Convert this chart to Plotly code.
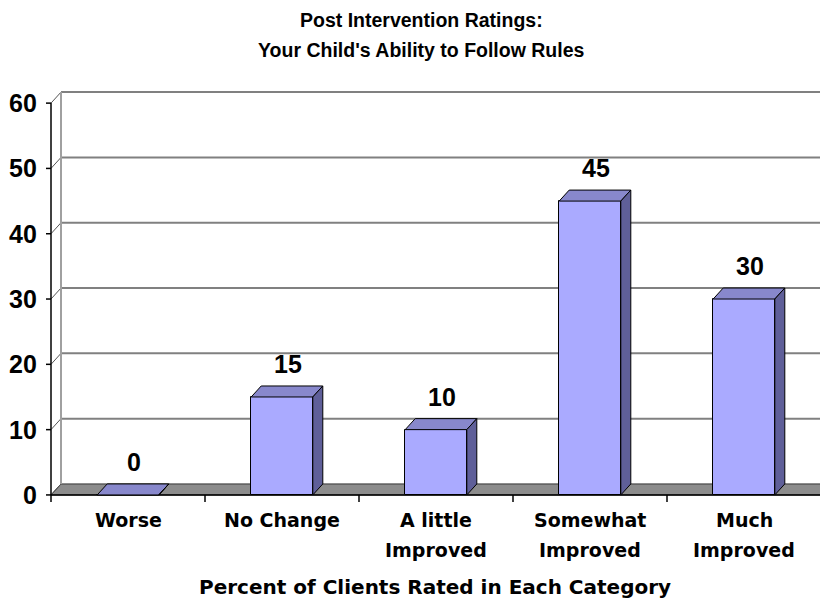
import plotly.graph_objects as go

# data
categories = ["Worse", "No Change", "A little<br>Improved", "Somewhat<br>Improved", "Much<br>Improved"]
values = [0, 15, 10, 45, 30]
y_ticks = [0, 10, 20, 30, 40, 50, 60]
title_lines = ["Post Intervention Ratings:", "Your Child's Ability to Follow Rules"]
x_title = "Percent of Clients Rated in Each Category"

# body margin is removed in the page (see write_html below)
FIG_W = 820
ML, MT, MB = 43, 77, 100
PLOT_W = FIG_W - ML

# pseudo-3D geometry (in axis units)
PX_X = 154.0          # pixels per category
PX_Y = 431.0 / 66.0   # pixels per y unit
DX = 10 / PX_X
DY = 11 / PX_Y
BAR_W = 0.4
X0 = -0.5 - 8 / PX_X
X1 = X0 + PLOT_W / PX_X
XFAR = X1 + 1

FRONT = "#AAAAFF"
TOP = "#8888CC"
SIDE = "#5F5F99"
FLOOR = "#8C8C8C"
GRID = "#808080"

num_font = dict(family="Arial, Liberation Sans", size=25, color="black", weight="bold")
cat_font = dict(family="DejaVu Sans", size=19, color="black", weight="bold")
axis_title_font = dict(family="DejaVu Sans", size=20, color="black", weight="bold")
title_font = dict(family="Arial, Liberation Sans", size=19.5, color="black", weight="bold")

fig = go.Figure()
shapes = []

# floor
shapes.append(dict(
    type="path", xref="x", yref="y", layer="below",
    path=f"M {-0.5},0 L {XFAR},0 L {XFAR + DX},{DY} L {-0.5 + DX},{DY} Z",
    fillcolor=FLOOR, line=dict(color="#333333", width=1),
))
# back-wall gridlines and left-wall diagonals
for v in y_ticks:
    if v > 0:
        shapes.append(dict(type="line", xref="x", yref="y", layer="below",
                           x0=-0.5 + DX, x1=XFAR, y0=v + DY, y1=v + DY,
                           line=dict(color=GRID, width=2)))
    shapes.append(dict(type="line", xref="x", yref="y", layer="below",
                       x0=-0.5, x1=-0.5 + DX, y0=v, y1=v + DY,
                       line=dict(color="#555555", width=1)))
    # y tick marks
    shapes.append(dict(type="line", xref="x", yref="y", layer="below",
                       x0=-0.5 - 5 / PX_X, x1=-0.5, y0=v, y1=v,
                       line=dict(color="black", width=1.5)))
# back wall left edge
shapes.append(dict(type="line", xref="x", yref="y", layer="below",
                   x0=-0.5 + DX, x1=-0.5 + DX, y0=DY, y1=y_ticks[-1] + DY,
                   line=dict(color="#A0A0A0", width=2)))
# front y axis
shapes.append(dict(type="line", xref="x", yref="y", layer="below",
                   x0=-0.5, x1=-0.5, y0=0, y1=y_ticks[-1],
                   line=dict(color="black", width=1.5)))
# front x axis and category boundary ticks
shapes.append(dict(type="line", xref="x", yref="y", layer="below",
                   x0=-0.5, x1=XFAR, y0=0, y1=0, line=dict(color="black", width=1.5)))
for i in range(len(categories) + 1):
    shapes.append(dict(type="line", xref="x", yref="y", layer="below",
                       x0=i - 0.5, x1=i - 0.5, y0=0, y1=-7 / PX_Y,
                       line=dict(color="black", width=1.5)))

# bar front faces
xs = list(range(len(categories)))
fig.add_trace(go.Bar(
    x=xs, y=values, width=BAR_W,
    marker=dict(color=FRONT, line=dict(color="black", width=1)),
    hoverinfo="skip", showlegend=False,
))

# top and side faces
for i, v in zip(xs, values):
    l, r = i - BAR_W / 2, i + BAR_W / 2
    fig.add_trace(go.Scatter(
        x=[l, r, r + DX, l + DX, l], y=[v, v, v + DY, v + DY, v],
        fill="toself", fillcolor=TOP, mode="lines",
        line=dict(color="black", width=1), hoverinfo="skip", showlegend=False,
    ))
    fig.add_trace(go.Scatter(
        x=[r, r + DX, r + DX, r, r], y=[0, DY, v + DY, v, 0],
        fill="toself", fillcolor=SIDE, mode="lines",
        line=dict(color="black", width=1), hoverinfo="skip", showlegend=False,
    ))

annotations = []
# value labels
for i, v in zip(xs, values):
    annotations.append(dict(x=i + 0.04, y=v, xref="x", yref="y", text=str(v),
                            showarrow=False, yanchor="middle", yshift=33, font=num_font))
# y tick labels
for v in y_ticks:
    annotations.append(dict(x=-0.5, y=v, xref="x", yref="y", text=str(v),
                            showarrow=False, xanchor="right", xshift=-12,
                            yanchor="middle", font=num_font))
# category labels, one annotation per line
for i, lab in enumerate(categories):
    for k, line in enumerate(lab.split("<br>")):
        annotations.append(dict(x=i, y=0, xref="x", yref="y", text=line,
                                showarrow=False, yanchor="middle",
                                yshift=-25 - 30 * k, font=cat_font))
# title
for k, line in enumerate(title_lines):
    annotations.append(dict(x=(421 - ML) / PLOT_W, y=1, xref="paper", yref="paper",
                            text=line, showarrow=False, yanchor="middle",
                            yshift=57 - 30 * k, font=title_font))
# x axis title
annotations.append(dict(x=(435 - ML) / PLOT_W, y=0, xref="paper", yref="paper",
                        text=x_title, showarrow=False, yanchor="middle",
                        yshift=-79, font=axis_title_font))

fig.update_layout(
    width=FIG_W, height=608,
    margin=dict(l=ML, r=0, t=MT, b=MB),
    plot_bgcolor="white", paper_bgcolor="white",
    xaxis=dict(range=[X0, X1], visible=False, fixedrange=True),
    yaxis=dict(range=[-2, 64], visible=False, fixedrange=True),
    shapes=shapes, annotations=annotations,
    bargap=0, showlegend=False,
)

fig.write_html("out.html", config={"displayModeBar": False},
               post_script="document.body.style.margin = '0';")
